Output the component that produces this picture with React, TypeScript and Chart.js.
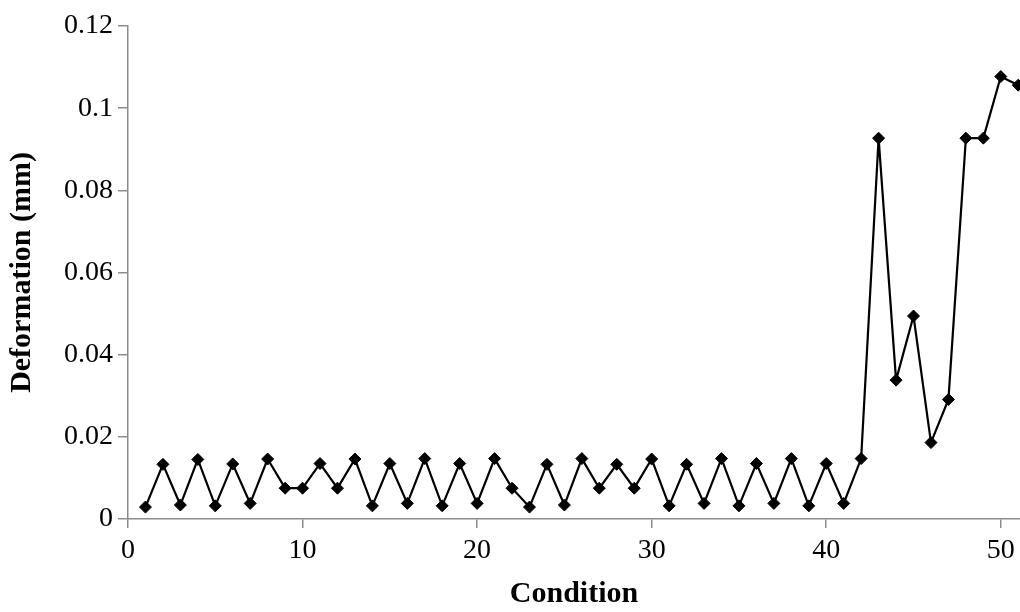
import React, { useEffect, useRef } from "react";
import { Chart, registerables } from "chart.js";

Chart.register(...registerables);

const conditions = [
  1, 2, 3, 4, 5, 6, 7, 8, 9, 10, 11, 12, 13, 14, 15, 16, 17, 18, 19, 20, 21, 22, 23, 24, 25, 26,
  27, 28, 29, 30, 31, 32, 33, 34, 35, 36, 37, 38, 39, 40, 41, 42, 43, 44, 45, 46, 47, 48, 49, 50, 51,
];

const deformation = [
  0.0029, 0.0133, 0.0034, 0.0145, 0.0032, 0.0134, 0.0038, 0.0146, 0.0075, 0.0075,
  0.0135, 0.0075, 0.0146, 0.0032, 0.0135, 0.0038, 0.0147, 0.0032, 0.0135, 0.0038,
  0.0147, 0.0075, 0.0029, 0.0133, 0.0034, 0.0147, 0.0075, 0.0133, 0.0075, 0.0146,
  0.0032, 0.0133, 0.0038, 0.0147, 0.0032, 0.0135, 0.0038, 0.0147, 0.0032, 0.0135,
  0.0038, 0.0147, 0.0927, 0.0338, 0.0494, 0.0186, 0.0291, 0.0927, 0.0927, 0.1077,
  0.1056,
];

const xTitle = "Condition";
const yTitle = "Deformation (mm)";

export default function App() {
  const ref = useRef<HTMLCanvasElement | null>(null);

  useEffect(() => {
    if (!ref.current) return;
    const axisColor = "#8c8c8c";
    const family = "'Liberation Serif', 'Times New Roman', serif";
    const tickFont = { family, size: 28 };
    const titleFont = { family, size: 30, weight: "bold" as const };
    const chart = new Chart(ref.current, {
      type: "line",
      data: {
        datasets: [
          {
            data: conditions.map((c, i) => ({ x: c, y: deformation[i] })),
            borderColor: "#000",
            backgroundColor: "#000",
            borderWidth: 2.2,
            pointStyle: "rectRot",
            pointRadius: 6,
            pointBackgroundColor: "#000",
            pointBorderColor: "#000",
            pointBorderWidth: 1,
            tension: 0,
            clip: false as any,
          },
        ],
      },
      options: {
        animation: false,
        responsive: false,
        devicePixelRatio: 1,
        layout: { autoPadding: false, padding: { top: 26, right: 0, left: 0, bottom: 0 } },
        plugins: { legend: { display: false }, tooltip: { enabled: false } },
        scales: {
          x: {
            type: "linear",
            min: 0,
            max: 51.1,
            afterFit: (s: any) => {
              s.height = 93;
              s.paddingRight = 0;
              s.paddingLeft = 0;
            },
            border: { display: true, color: axisColor, width: 1.5 },
            grid: { drawOnChartArea: false, color: axisColor, tickLength: 9, lineWidth: 1.5 },
            ticks: {
              stepSize: 10,
              includeBounds: false,
              autoSkip: false,
              maxRotation: 0,
              color: "#000",
              font: tickFont,
              padding: 6,
            },
            title: {
              display: true,
              text: xTitle,
              color: "#000",
              font: titleFont,
              padding: { top: 0, bottom: 0 },
            },
          },
          y: {
            type: "linear",
            min: 0,
            max: 0.12,
            afterFit: (s: any) => {
              s.width = 128;
              s.paddingTop = 0;
              s.paddingBottom = 0;
            },
            border: { display: true, color: axisColor, width: 1.5 },
            grid: { drawOnChartArea: false, color: axisColor, tickLength: 10, lineWidth: 1.5 },
            ticks: {
              stepSize: 0.02,
              color: "#000",
              font: tickFont,
              padding: 5,
              callback: (v: any) => String(parseFloat(Number(v).toFixed(2))),
            },
            title: {
              display: true,
              text: yTitle,
              color: "#000",
              font: titleFont,
              padding: { top: 4, bottom: 0 },
            },
          },
        },
      },
    });
    return () => chart.destroy();
  }, []);

  return (
    <div style={{ position: "absolute", left: 0, top: 0, width: 1020, height: 612, background: "#fff" }}>
      <canvas ref={ref} width={1020} height={612} style={{ display: "block" }} />
    </div>
  );
}
